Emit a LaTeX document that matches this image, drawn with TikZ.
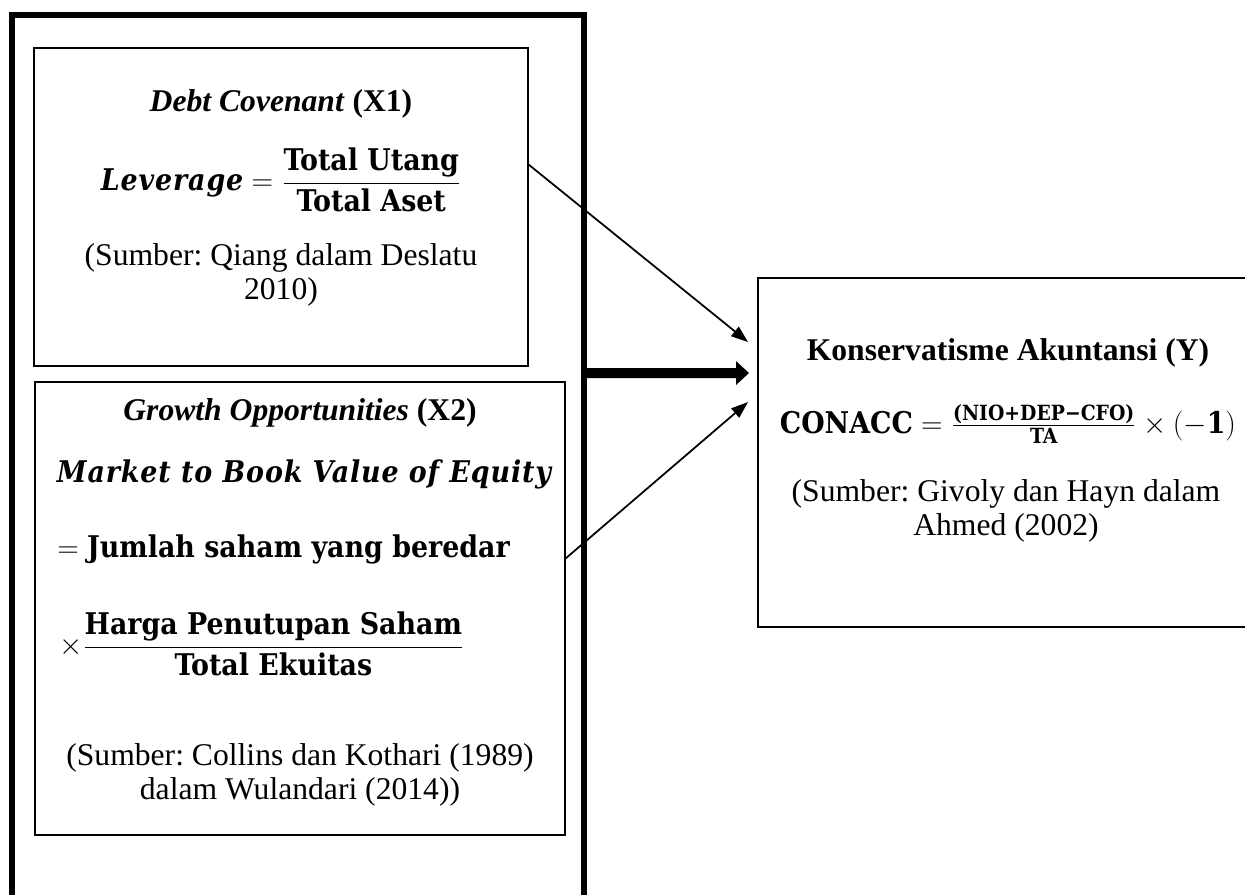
\RequirePackage{fix-cm}
\documentclass[tikz,border=0pt]{standalone}
\usepackage{amsmath}
\usepackage{fontspec}
\setmainfont{Liberation Serif}
\newfontfamily\cambria{DejaVu Serif Condensed}
\newfontfamily\cambriait[LetterSpace=3]{DejaVu Serif Condensed}
\usetikzlibrary{arrows.meta}

\newcommand{\eqb}[1]{\text{\cambria\bfseries #1}}
\newcommand{\eqbi}[1]{\text{\cambriait\bfseries\itshape #1}}
\frenchspacing

\begin{document}
\begin{tikzpicture}[x=0.02cm, y=-0.02cm,
    frame/.style={draw, line width=0.11cm, inner sep=0pt, outer sep=0pt},
    box/.style={draw, line width=0.05cm, inner sep=0pt, outer sep=0pt},
    txt/.style={font=\fontsize{18}{19.4}\selectfont, align=center, inner sep=0pt},
    eq/.style={font=\fontsize{17}{22}\selectfont, inner sep=0pt},
    link/.style={line width=0.035cm, -{Triangle[length=0.34cm, width=0.24cm]}},
    bigarrow/.style={line width=0.2cm, -{Triangle[length=0.26cm, width=0.46cm]}}]
    \useasboundingbox (0,0) rectangle (1245,895);
    \clip (0,0) rectangle (1245,895);
    % Outer frame (runs off the bottom)
    \node[frame, minimum width=11.44cm, minimum height=18.7cm] (frame) at (298,482.5) {};
    % Independent variable boxes
    \node[box, minimum width=9.88cm, minimum height=6.36cm] (box1) at (281,207) {};
    \node[box, minimum width=10.6cm, minimum height=9.06cm] (box2) at (300,608.5) {};
    % Dependent variable box (runs off the right)
    \node[box, minimum width=10.84cm, minimum height=6.98cm] (ybox) at (1029,452.5) {};

    % X1
    \node[txt] (x1title) at (281,104) {\textbf{\textit{Debt Covenant} (X1)}};
    \node[eq] (x1eq) at (281,180) {$\eqbi{Leverage} = \dfrac{\eqb{Total Utang}}{\eqb{Total Aset}}$};
    \node[txt] (x1src) at (281,275) {(Sumber: Qiang dalam Deslatu\\2010)};
    % X2
    \node[txt] (x2title) at (300,413) {\textbf{\textit{Growth Opportunities} (X2)}};
    \node[eq] (x2name) at (304,474) {$\eqbi{Market to Book Value of Equity}$};
    \node[eq, anchor=west] (x2def) at (57,549) {$= \eqb{Jumlah saham yang beredar}$};
    \node[eq, anchor=west] (x2frac) at (59,644) {$\times \dfrac{\eqb{Harga Penutupan Saham}}{\eqb{Total Ekuitas}}$};
    \node[txt] (x2src) at (300,775) {(Sumber: Collins dan Kothari (1989)\\dalam Wulandari (2014))};
    % Y
    \node[txt] (ytitle) at (1008,353) {\textbf{Konservatisme Akuntansi (Y)}};
    \node[eq] (yeq) at (1008,424) {$\eqb{CONACC} = \frac{\eqb{(NIO+DEP−CFO)}}{\eqb{TA}} \times (-\eqb{1})$};
    \node[txt] (ysrc) at (1006,510.5) {(Sumber: Givoly dan Hayn dalam\\Ahmed (2002)};

    % Arrow ends
    \path (box1.north east) ++(0,116) coordinate (from1);
    \path (box2.north east) ++(0,177) coordinate (from2);
    \path (frame.north east) ++(0,358) coordinate (from0);
    \path (ybox.north west) ++(-10,64) coordinate (to1);
    \path (ybox.north west) ++(-9,95) coordinate (to0);
    \path (ybox.north west) ++(-10,124) coordinate (to2);
    \draw[link] (from1) -- (to1);
    \draw[link] (from2) -- (to2);
    \draw[bigarrow] (from0) -- (to0);
\end{tikzpicture}
\end{document}
